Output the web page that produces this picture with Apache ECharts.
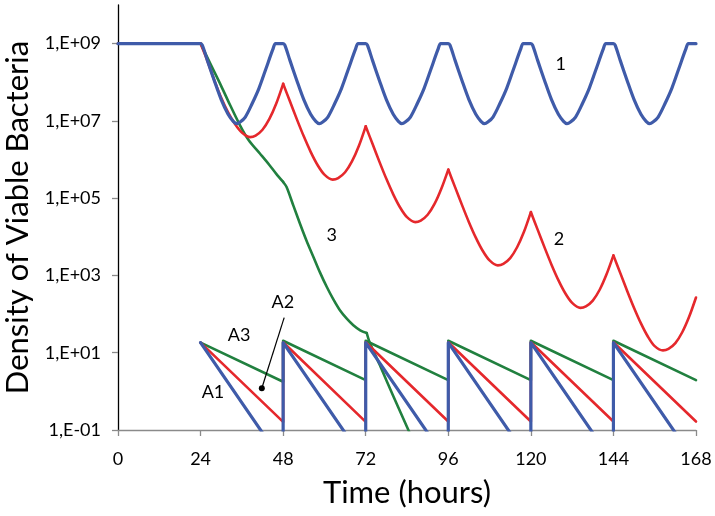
<!DOCTYPE html>
<html>
<head>
<meta charset="utf-8">
<script src="https://cdn.jsdelivr.net/npm/echarts@6/dist/echarts.min.js"></script>
<style>
html,body{margin:0;padding:0;background:#fff;}
#chart{width:715px;height:516px;}
</style>
</head>
<body>
<div id="chart"></div>
<script>
// ---- Data (time in hours, density as log10 values) ----
var xTicks = [0, 24, 48, 72, 96, 120, 144, 168];
var yTickValues = [1e-1, 1e1, 1e3, 1e5, 1e7, 1e9];

// Curve 1 (blue)
var curve1Time = [0,24,24.5,26,28,30,32,33.5,34.5,35.5,37,39,41,43,45,45.8,
  48,48.5,50,52,54,56,57.5,58.5,59.5,61,63,65,67,69,69.8,
  72,72.5,74,76,78,80,81.5,82.5,83.5,85,87,89,91,93,93.8,
  96,96.5,98,100,102,104,105.5,106.5,107.5,109,111,113,115,117,117.8,
  120,120.5,122,124,126,128,129.5,130.5,131.5,133,135,137,139,141,141.8,
  144,144.5,146,148,150,152,153.5,154.5,155.5,157,159,161,163,165,165.8,168];
var curve1Log = [9,9,8.96,8.56,8.04,7.55,7.17,6.99,6.93,6.97,7.1,7.45,7.85,8.35,8.85,9,
  9,8.96,8.56,8.04,7.55,7.17,6.99,6.93,6.97,7.1,7.45,7.85,8.35,8.85,9,
  9,8.96,8.56,8.04,7.55,7.17,6.99,6.93,6.97,7.1,7.45,7.85,8.35,8.85,9,
  9,8.96,8.56,8.04,7.55,7.17,6.99,6.93,6.97,7.1,7.45,7.85,8.35,8.85,9,
  9,8.96,8.56,8.04,7.55,7.17,6.99,6.93,6.97,7.1,7.45,7.85,8.35,8.85,9,
  9,8.96,8.56,8.04,7.55,7.17,6.99,6.93,6.97,7.1,7.45,7.85,8.35,8.85,9,9];

// Curve 2 (red); sharp peaks at the dose times
var curve2Time = [0,24,26,28,30,32,34,36,38.4,40,42,44,46,48,
  50,52,54,56,58,60,62.4,64,66,68,70,72,
  74,76,78,80,82,84,86.4,88,90,92,94,96,
  98,100,102,104,106,108,110.4,112,114,116,118,120,
  122,124,126,128,130,132,134.4,136,138,140,142,144,
  146,148,150,152,154,156,158.4,160,162,164,166,168];
var curve2Log = [9,9,8.55,8.05,7.6,7.22,6.92,6.7,6.58,6.62,6.77,7.05,7.45,7.96,
  7.5,7.04,6.6,6.2,5.86,5.61,5.48,5.52,5.67,5.95,6.35,6.86,
  6.4,5.94,5.5,5.1,4.76,4.51,4.38,4.42,4.57,4.85,5.25,5.74,
  5.28,4.82,4.38,3.98,3.64,3.39,3.26,3.3,3.45,3.73,4.13,4.64,
  4.18,3.72,3.28,2.88,2.54,2.29,2.16,2.2,2.35,2.63,3.03,3.52,
  3.06,2.6,2.16,1.76,1.42,1.17,1.06,1.1,1.25,1.53,1.93,2.43];
var curve2Corners = [24, 48, 72, 96, 120, 144];

// Curve 3 (green); kinks at 48 h and 72 h
var curve3Time = [0,24,27,29.7,32,35.5,38,41.3,44,46,48,49,51,52.9,54.8,56.8,58.7,60.7,62.6,64.5,66.5,68.4,70.4,72.3,73.1,76,80,84.4,86];
var curve3Log = [9,9,8.45,7.96,7.52,6.88,6.5,6.15,5.86,5.63,5.42,5.29,4.8,4.34,3.9,3.48,3.08,2.7,2.38,2.1,1.88,1.71,1.58,1.51,1.28,0.7,-0.12,-1.0,-1.33];
var curve3Corners = [24, 48, 72.3];

// Antibiotic concentrations A1 (blue), A2 (red), A3 (green)
var doseTime = [24,48,48,72,72,96,96,120,120,144,144,168];
var a1Log = [1.26,-1.85,1.26,-1.85,1.26,-1.85,1.26,-1.85,1.26,-1.85,1.26,-1.85];
var a2Log = [1.26,-0.79,1.27,-0.79,1.27,-0.78,1.27,-0.78,1.27,-0.78,1.27,-0.78];
var a3Log = [1.26,0.25,1.31,0.29,1.31,0.29,1.31,0.29,1.31,0.29,1.31,0.29];

// Annotations: [text, time, log10 density]
var annotations = [
  ['1', 128.7, 8.48],
  ['2', 128.2, 3.94],
  ['3', 62.1, 4.04],
  ['A2', 47.9, 2.32],
  ['A3', 35.2, 1.45],
  ['A1', 27.6, -0.01]
];
var pointerFrom = [48.3, 1.91];
var pointerTo = [41.8, 0.08];

// ---- Chart ----
var BLUE = '#3F5BA9', RED = '#E5282C', GREEN = '#21803F';
function pairs(ts, logs) {
  return ts.map(function (t, i) { return [t, Math.pow(10, logs[i])]; });
}
// split a curve into pieces at corner times (each piece smoothed on its own)
function pieces(ts, logs, corners) {
  var all = pairs(ts, logs), out = [], cur = [];
  all.forEach(function (p, i) {
    cur.push(p);
    if (corners.indexOf(ts[i]) >= 0 && cur.length > 1) { out.push(cur); cur = [p]; }
  });
  if (cur.length > 1) out.push(cur);
  return out;
}
function fmtE(v) {
  var e = Math.round(Math.log10(v));
  var s = e < 0 ? '-' : '+';
  var a = Math.abs(e);
  return '1,E' + s + (a < 10 ? '0' : '') + a;
}
function lineSeries(name, data, color, width, z, smooth) {
  return {
    name: name, type: 'line', data: data, showSymbol: false, symbol: 'none',
    clip: true, z: z, animation: false, smooth: smooth || false,
    lineStyle: { color: color, width: width, join: 'round', cap: 'round' }
  };
}

var series = [];
series.push(lineSeries('A3', pairs(doseTime, a3Log), GREEN, 2.6, 2));
pieces(curve3Time, curve3Log, curve3Corners).forEach(function (d) { series.push(lineSeries('3', d, GREEN, 2.6, 2, 0.3)); });
series.push(lineSeries('A2', pairs(doseTime, a2Log), RED, 2.6, 3));
pieces(curve2Time, curve2Log, curve2Corners).forEach(function (d) { series.push(lineSeries('2', d, RED, 2.6, 3, 0.3)); });
series.push(lineSeries('A1', pairs(doseTime, a1Log), BLUE, 3.2, 4));
series.push(lineSeries('1', pairs(curve1Time, curve1Log), BLUE, 3.2, 4, 0.3));

var chart = echarts.init(document.getElementById('chart'), null, { renderer: 'canvas' });
chart.setOption({
  animation: false,
  backgroundColor: '#fff',
  textStyle: { fontFamily: 'Lato' },
  grid: { left: 118, right: 19, top: 5, bottom: 86, containLabel: false, outerBoundsMode: 'none' },
  xAxis: {
    type: 'value', min: 0, max: 168, interval: 24,
    name: 'Time (hours)', nameLocation: 'middle', nameGap: 47,
    nameTextStyle: { fontFamily: 'Lato', fontSize: 31, color: '#000' },
    axisLine: { show: true, lineStyle: { color: '#8a8a8a', width: 1.3 } },
    axisTick: { show: true, inside: false, length: 6, lineStyle: { color: '#8a8a8a', width: 1.3 } },
    axisLabel: { fontFamily: 'Lato', fontSize: 18, color: '#000', margin: 20 },
    splitLine: { show: false }
  },
  yAxis: {
    type: 'log', logBase: 10, min: 0.1, max: 1e10,
    name: 'Density of Viable Bacteria', nameLocation: 'middle', nameGap: 84,
    nameTextStyle: { fontFamily: 'Lato', fontSize: 31, color: '#000' },
    axisLine: { show: true, lineStyle: { color: '#000', width: 1.3 } },
    axisTick: { show: true, inside: false, length: 6, customValues: yTickValues, lineStyle: { color: '#8a8a8a', width: 1.3 } },
    axisLabel: { fontFamily: 'Lato', fontSize: 18, color: '#000', margin: 17, customValues: yTickValues, formatter: fmtE },
    splitLine: { show: false }
  },
  series: series
});

function px(t, lg) { return chart.convertToPixel({ gridIndex: 0 }, [t, Math.pow(10, lg)]); }
var g = annotations.map(function (a) {
  var p = px(a[1], a[2]);
  return { type: 'text', x: p[0], y: p[1], z: 10,
    style: { text: a[0], fontFamily: 'Lato', fontSize: 18, fill: '#000', align: 'center', verticalAlign: 'middle' } };
});
var pf = px(pointerFrom[0], pointerFrom[1]);
var pt = px(pointerTo[0], pointerTo[1]);
g.push({ type: 'line', z: 10, shape: { x1: pf[0], y1: pf[1], x2: pt[0], y2: pt[1] }, style: { stroke: '#000', lineWidth: 1.2 } });
g.push({ type: 'circle', z: 10, shape: { cx: pt[0], cy: pt[1], r: 3 }, style: { fill: '#000' } });
chart.setOption({ graphic: g });
</script>
</body>
</html>
